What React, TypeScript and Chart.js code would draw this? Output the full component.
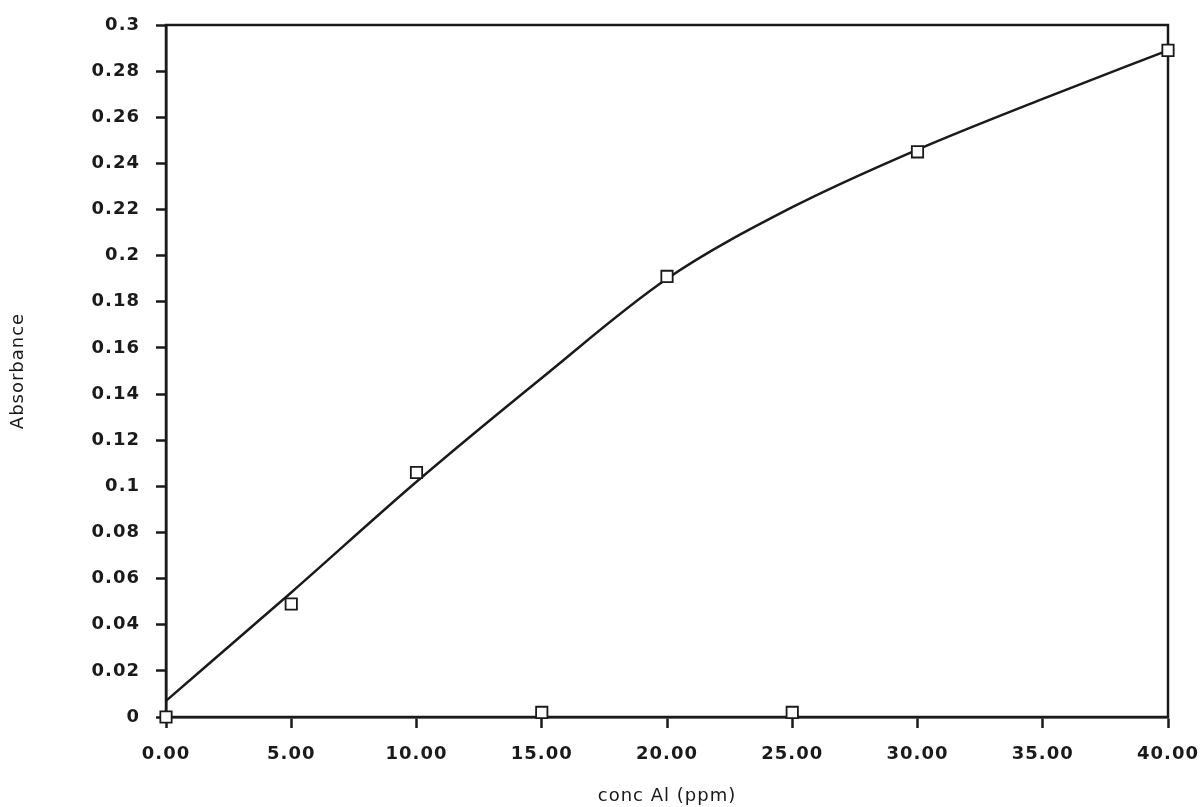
import React, { useEffect, useRef } from "react";
import { Chart, registerables } from "chart.js";

Chart.register(...registerables);

// Measured points (open squares)
const concAl = [0, 5, 10, 15, 20, 25, 30, 40];
const absorbance = [0, 0.049, 0.106, 0.002, 0.191, 0.002, 0.245, 0.289];

// Fitted calibration curve
const curveConc = [0, 5, 10, 15, 20, 25, 30, 35, 40];
const curveAbs = [0.007, 0.054, 0.102, 0.147, 0.19, 0.221, 0.246, 0.268, 0.289];

// Tick labels
const xTickLabels = ["0.00", "5.00", "10.00", "15.00", "20.00", "25.00", "30.00", "35.00", "40.00"];
const yTickLabels = [
  "0", "0.02", "0.04", "0.06", "0.08", "0.1", "0.12", "0.14",
  "0.16", "0.18", "0.2", "0.22", "0.24", "0.26", "0.28", "0.3",
];

const INK = "#1a1a1a";
const FONT = "'DejaVu Sans', sans-serif";

const spacingPlugin = {
  id: "spacing",
  beforeLayout(chart: any) {
    try { chart.ctx.letterSpacing = "1px"; } catch (e) {}
  },
  beforeDraw(chart: any) {
    try { chart.ctx.letterSpacing = "1px"; } catch (e) {}
  },
};

const framePlugin = {
  id: "frame",
  beforeDatasetsDraw(chart: any) {
    const { ctx, chartArea } = chart;
    ctx.save();
    ctx.strokeStyle = INK;
    ctx.lineWidth = 2.5;
    ctx.strokeRect(chartArea.left, chartArea.top, chartArea.right - chartArea.left, chartArea.bottom - chartArea.top);
    ctx.restore();
  },
};

export default function App() {
  const canvasRef = useRef<HTMLCanvasElement | null>(null);

  useEffect(() => {
    if (!canvasRef.current) return;
    const chart = new Chart(canvasRef.current, {
      type: "scatter",
      data: {
        datasets: [
          {
            label: "Absorbance",
            data: concAl.map((x, i) => ({ x, y: absorbance[i] })),
            pointStyle: "rect",
            pointRadius: 8,
            pointBorderWidth: 1.8,
            pointBorderColor: INK,
            pointBackgroundColor: "#ffffff",
            showLine: false,
            clip: false,
            order: 0,
          },
          {
            label: "Fit",
            data: curveConc.map((x, i) => ({ x, y: curveAbs[i] })),
            showLine: true,
            borderColor: INK,
            borderWidth: 2.5,
            pointRadius: 0,
            cubicInterpolationMode: "monotone",
            fill: false,
            clip: false,
            order: 1,
          },
        ],
      },
      options: {
        animation: false,
        responsive: true,
        maintainAspectRatio: false,
        layout: { padding: { left: 0, right: 32, top: 25, bottom: 0 } },
        plugins: {
          legend: { display: false },
          tooltip: { enabled: false },
        },
        scales: {
          x: {
            type: "linear",
            position: "bottom",
            min: 0,
            max: 40,
            ticks: {
              stepSize: 5,
              color: INK,
              font: { family: FONT, size: 18, weight: "bold" },
              padding: 16,
              maxRotation: 0,
              callback: (_v: any, i: number) => xTickLabels[i],
            },
            grid: {
              display: true,
              drawOnChartArea: false,
              drawTicks: true,
              tickLength: 11,
              tickWidth: 2.5,
              tickColor: INK,
            },
            border: { display: true, color: INK, width: 2.5 },
            title: {
              display: true,
              text: "conc Al (ppm)",
              color: INK,
              font: { family: FONT, size: 18 },
              padding: { top: 0, bottom: 0 },
            },
            afterFit: (s: any) => {
              s.height = 90;
              s.paddingLeft = 0;
              s.paddingRight = 0;
            },
          },
          y: {
            type: "linear",
            min: 0,
            max: 0.3,
            ticks: {
              stepSize: 0.02,
              color: INK,
              font: { family: FONT, size: 18, weight: "bold" },
              padding: 16,
              callback: (_v: any, i: number) => yTickLabels[i],
            },
            grid: {
              display: true,
              drawOnChartArea: false,
              drawTicks: true,
              tickLength: 10,
              tickWidth: 2.5,
              tickColor: INK,
            },
            border: { display: true, color: INK, width: 2.5 },
            title: {
              display: true,
              text: "Absorbance",
              color: INK,
              font: { family: FONT, size: 18 },
              padding: { top: 8, bottom: 0 },
            },
            afterFit: (s: any) => {
              s.width = 166;
              s.paddingTop = 0;
              s.paddingBottom = 0;
            },
          },
        },
      },
      plugins: [spacingPlugin, framePlugin],
    } as any);
    return () => chart.destroy();
  }, []);

  return (
    <div style={{ position: "absolute", left: 0, top: 0, width: 1200, height: 807, background: "#fff" }}>
      <canvas ref={canvasRef} />
    </div>
  );
}
